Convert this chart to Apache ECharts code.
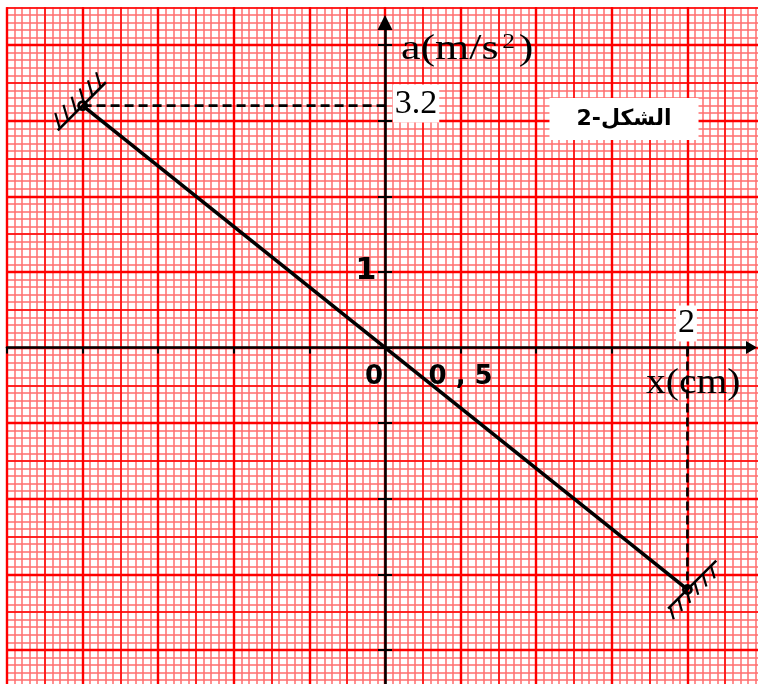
<!DOCTYPE html>
<html><head><meta charset="utf-8">
<script src="https://cdn.jsdelivr.net/npm/echarts@6/dist/echarts.min.js"></script>
<style>html,body{margin:0;padding:0;background:#fff}#c{width:758px;height:684px}</style>
</head><body><div id="c"></div>
<script>
// ---- data ----
const xPoints = [-2, 2];            // x (cm)
const aPoints = [3.2, -3.2];        // a (m/s^2)
const xLabelValues = [0, 0.5, 2];
const xLabelTexts = ['0', '0 , 5', '2'];
const yLabelValues = [1, 3.2];
const yLabelTexts = ['1', '3.2'];
const xTitleText = 'x(cm)';
const yTitleParts = ['a(m/s', '2', ')'];
const figureText = 'الشكل-2';

// ---- layout (pixels) ----
const OX = 385, OY = 347.5, S = 75.6;   // origin and pixels per major cell
const XU = 0.5, YU = 1;                  // units per major cell
const pxX = v => OX + v / XU * S;
const pxY = v => OY - v / YU * S;
const xArrowPx = 751.5, yArrowPx = 22.5;
const xArrowMax = (xArrowPx - OX) / S * XU;
const yArrowMax = (OY - yArrowPx) / S * YU;

function gridRect(x0, x1, y0, y1) {
  return { left: pxX(x0), width: pxX(x1) - pxX(x0), top: pxY(y1), height: pxY(y0) - pxY(y1),
           containLabel: false, outerBoundsMode: 'none', show: false };
}
const grids = [
  gridRect(-2.5, 2.5, -4.5, 4.5),
  gridRect(-2.5, 2.5, -5, 5),
  gridRect(-2.5, xArrowMax, -5, yArrowMax)
];
const off = { show: false };
function paperAxis(gi, min, max, interval, color, width, z) {
  return { type: 'value', gridIndex: gi, min, max, interval, z,
    axisLine: { show: false, onZero: false }, axisTick: off, axisLabel: off, minorTick: off,
    splitLine: { show: true, lineStyle: { color, width, opacity: 1 } } };
}
function tickAxis(gi, min, max, interval, inside, len, onZeroIdx) {
  return { type: 'value', gridIndex: gi, min, max, interval, z: 3,
    axisLine: { show: false, onZero: true, onZeroAxisIndex: onZeroIdx },
    axisTick: { show: true, inside, length: len, lineStyle: { color: '#000', width: 2 } },
    axisLabel: off, splitLine: off, minorTick: off };
}
function arrowAxis(gi, min, max, size, onZeroIdx) {
  return { type: 'value', gridIndex: gi, min, max, z: 4,
    axisLine: { show: true, onZero: true, onZeroAxisIndex: onZeroIdx,
      symbol: ['none', 'triangle'], symbolSize: size, lineStyle: { color: '#000', width: 2.6 } },
    axisTick: off, axisLabel: off, splitLine: off, minorTick: off };
}
const minorC = '#ff6e6e', midC = '#ff0000', majC = '#ff0000';
const xAxes = [
  paperAxis(0, -2.5, 2.5, 0.05, minorC, 1.5, 0),
  paperAxis(0, -2.5, 2.5, 0.25, midC, 1.5, 1),
  paperAxis(0, -2.5, 2.5, 0.5, majC, 2.4, 1),
  tickAxis(1, -2.5, 2.5, 0.5, false, 6, 3),
  tickAxis(1, -2.5, 2.5, 0.5, true, 6, 3),
  arrowAxis(2, -2.5, xArrowMax, [13, 11], 5)
];
const yAxes = [
  paperAxis(0, -4.5, 4.5, 0.1, minorC, 1.5, 0),
  paperAxis(0, -4.5, 4.5, 0.5, midC, 1.5, 1),
  paperAxis(1, -5, 5, 1, majC, 2.4, 1),
  tickAxis(1, -5, 5, 1, false, 7, 3),
  tickAxis(1, -5, 5, 1, true, 7, 3),
  arrowAxis(2, -5, yArrowMax, [15, 15], 5)
];

// label styles (by index)
const xLabelStyles = [
  { fontFamily: 'DejaVu Sans', fontWeight: 'bold', fontSize: 26, offset: [-11, 30] },
  { fontFamily: 'DejaVu Sans', fontWeight: 'bold', fontSize: 26, offset: [0, 30] },
  { fontFamily: 'Liberation Serif', fontSize: 34, offset: [-1, -24], backgroundColor: '#fff', padding: [2, 2, 0, 2] }
];
const yLabelStyles = [
  { fontFamily: 'DejaVu Sans', fontWeight: 'bold', fontSize: 30, offset: [-19, -1] },
  { fontFamily: 'Liberation Serif', fontSize: 34, offset: [31, -2], backgroundColor: '#fff', padding: [3, 2, 1, 2] }
];
const labelBase = { show: true, position: 'inside', color: '#000', opacity: 1, textBorderWidth: 0 };
const labelData = [];
xLabelValues.forEach((v, i) => labelData.push({ value: [v, 0],
  label: Object.assign({ formatter: xLabelTexts[i] }, labelBase, xLabelStyles[i]) }));
yLabelValues.forEach((v, i) => labelData.push({ value: [0, v],
  label: Object.assign({ formatter: yLabelTexts[i] }, labelBase, yLabelStyles[i]) }));

const endPoints = xPoints.map((x, i) => [x, aPoints[i]]);

function renderWall(params, api) {
  const y = api.value(1);
  const p = api.coord([api.value(0), y]);
  const side = y > 0 ? -1 : 1;
  const L = 34, shift = side > 0 ? 0.2 : -0.03;
  const ux = Math.SQRT1_2, uy = -Math.SQRT1_2;
  const cx = p[0] + shift * L * ux, cy = p[1] + shift * L * uy;
  const children = [{ type: 'line', shape: { x1: cx - ux * L, y1: cy - uy * L, x2: cx + ux * L, y2: cy + uy * L },
    style: { stroke: '#000', lineWidth: 2.6 } }];
  const hl = side < 0 ? 16 : 13;
  [-0.92, -0.58, -0.24, 0.1, 0.44, 0.78].forEach(t => {
    const bx = cx + t * L * ux, by = cy + t * L * uy;
    children.push({ type: 'line', shape: { x1: bx, y1: by, x2: bx + side * 0.28 * hl, y2: by + side * 0.96 * hl },
      style: { stroke: '#000', lineWidth: 2.2 } });
  });
  children.push({ type: 'circle', shape: { cx: p[0], cy: p[1], r: 4 }, style: { fill: 'none', stroke: '#000', lineWidth: 2.8 } });
  return { type: 'group', children };
}

const option = {
  animation: false,
  backgroundColor: '#fff',
  grid: grids,
  xAxis: xAxes,
  yAxis: yAxes,
  series: [
    { type: 'line', xAxisIndex: 3, yAxisIndex: 3, data: endPoints, symbol: 'none', silent: true, z: 5,
      lineStyle: { color: '#000', width: 3.6 } },
    { type: 'line', xAxisIndex: 3, yAxisIndex: 3, data: [[xPoints[0], aPoints[0]], [0, aPoints[0]]], symbol: 'none', silent: true, z: 5,
      lineStyle: { color: '#000', width: 2.6, type: [9, 5] } },
    { type: 'line', xAxisIndex: 3, yAxisIndex: 3, data: [[xPoints[1], 0], [xPoints[1], aPoints[1]]], symbol: 'none', silent: true, z: 5,
      lineStyle: { color: '#000', width: 2.6, type: [9, 5] } },
    { type: 'custom', xAxisIndex: 3, yAxisIndex: 3, data: endPoints, renderItem: renderWall, silent: true, z: 6 },
    { type: 'scatter', xAxisIndex: 3, yAxisIndex: 3, data: labelData, symbolSize: 1, silent: true, z: 7,
      itemStyle: { color: 'transparent', opacity: 1 } }
  ],
  graphic: [
    { type: 'text', x: 401, y: 50, scaleX: 1.22, z: 10, silent: true,
      style: { text: '{n|' + yTitleParts[0] + '}{s|' + yTitleParts[1] + '}{n|' + yTitleParts[2] + '}',
        align: 'left', textAlign: 'left', verticalAlign: 'middle', textVerticalAlign: 'middle',
        rich: { n: { fontFamily: 'Liberation Serif', fontSize: 36, fill: '#000', color: '#000' },
                s: { fontFamily: 'Liberation Serif', fontSize: 21, fill: '#000', color: '#000', verticalAlign: 'top', padding: [0, 3, 0, 3] } } } },
    { type: 'text', x: 646, y: 384, scaleX: 1.1, z: 10, silent: true,
      style: { text: xTitleText, font: '36px "Liberation Serif"', fill: '#000',
        align: 'left', textAlign: 'left', verticalAlign: 'middle', textVerticalAlign: 'middle' } },
    { type: 'text', x: 624, y: 119, z: 10, silent: true,
      style: { text: figureText, font: 'bold 22px "DejaVu Sans"', fill: '#000', backgroundColor: '#fff', padding: [10, 27],
        align: 'center', textAlign: 'center', verticalAlign: 'middle', textVerticalAlign: 'middle' } }
  ]
};
const chart = echarts.init(document.getElementById('c'), null, { renderer: 'canvas' });
chart.setOption(option);
</script></body></html>
